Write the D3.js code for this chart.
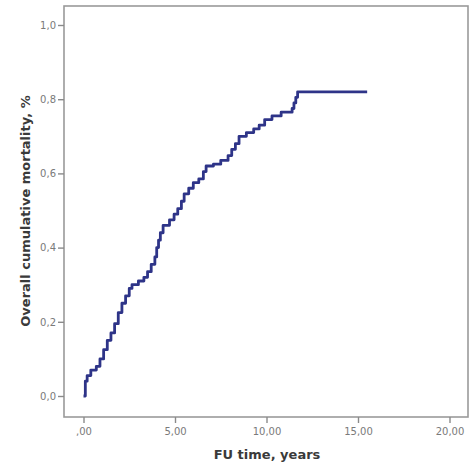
<!DOCTYPE html>
<html>
<head>
<meta charset="utf-8">
<script src="https://cdn.jsdelivr.net/npm/d3@7"></script>
<style>
  html, body { margin: 0; padding: 0; background: #fff; }
  svg { display: block; }
</style>
</head>
<body>
<svg id="chart" width="473" height="469"></svg>
<script>
// Data (Kaplan–Meier style cumulative mortality)
const times = [0, 0.1, 0.2, 0.4, 0.7, 0.9, 1.1, 1.3, 1.5, 1.7, 1.9, 2.1, 2.3, 2.5, 2.65, 3.0, 3.3, 3.5, 3.7, 3.9, 4.0, 4.1, 4.2, 4.35, 4.7, 4.95, 5.15, 5.35, 5.5, 5.75, 6.0, 6.3, 6.55, 6.7, 7.1, 7.5, 7.9, 8.1, 8.3, 8.5, 8.9, 9.3, 9.6, 9.9, 10.3, 10.8, 11.4, 11.5, 11.6, 11.7, 15.5];
const mortality = [0, 0.04, 0.055, 0.07, 0.08, 0.1, 0.125, 0.15, 0.17, 0.195, 0.225, 0.25, 0.27, 0.29, 0.30, 0.31, 0.32, 0.335, 0.355, 0.375, 0.40, 0.42, 0.44, 0.46, 0.475, 0.49, 0.505, 0.525, 0.545, 0.56, 0.575, 0.585, 0.605, 0.62, 0.625, 0.635, 0.648, 0.665, 0.68, 0.70, 0.71, 0.72, 0.73, 0.745, 0.755, 0.765, 0.775, 0.79, 0.805, 0.82, 0.82];
const xTicks = [0, 5, 10, 15, 20];
const xTickLabels = [",00", "5,00", "10,00", "15,00", "20,00"];
const yTicks = [0, 0.2, 0.4, 0.6, 0.8, 1.0];
const yTickLabels = ["0,0", "0,2", "0,4", "0,6", "0,8", "1,0"];
const xTitle = "FU time, years";
const yTitle = "Overall cumulative mortality, %";

const svg = d3.select("#chart");
const frame = { left: 64, top: 6, right: 468, bottom: 417 };

const x = d3.scaleLinear().domain([0, 20]).range([83.5, 449.5]);
const y = d3.scaleLinear().domain([0, 1]).range([396, 25]);

// frame
svg.append("rect")
  .attr("x", frame.left).attr("y", frame.top)
  .attr("width", frame.right - frame.left).attr("height", frame.bottom - frame.top)
  .attr("fill", "#fff").attr("stroke", "#9a9a9a").attr("stroke-width", 1.6);

// y axis
const yAxis = svg.append("g")
  .attr("transform", `translate(${frame.left},0)`)
  .call(d3.axisLeft(y).tickValues(yTicks).tickSize(6).tickPadding(2)
    .tickFormat((d, i) => yTickLabels[i]));
yAxis.select(".domain").remove();
yAxis.selectAll(".tick line").attr("stroke", "#8a8a8a").attr("stroke-width", 1.4);
yAxis.selectAll(".tick text").attr("fill", "#7a7a7a")
  .style("font-family", "'DejaVu Sans', sans-serif").style("font-size", "10px");

// x axis
const xAxis = svg.append("g")
  .attr("transform", `translate(0,${frame.bottom})`)
  .call(d3.axisBottom(x).tickValues(xTicks).tickSize(6).tickPadding(5)
    .tickFormat((d, i) => xTickLabels[i]));
xAxis.select(".domain").remove();
xAxis.selectAll(".tick line").attr("stroke", "#8a8a8a").attr("stroke-width", 1.4);
xAxis.selectAll(".tick text").attr("fill", "#7a7a7a")
  .style("font-family", "'DejaVu Sans', sans-serif").style("font-size", "10px");

// titles
svg.append("text")
  .attr("x", 267).attr("y", 459)
  .attr("text-anchor", "middle")
  .attr("fill", "#3a3a3a")
  .style("font-family", "'DejaVu Sans', sans-serif").style("font-weight", "bold").style("font-size", "13px")
  .text(xTitle);

svg.append("text")
  .attr("transform", `translate(30,211) rotate(-90)`)
  .attr("text-anchor", "middle")
  .attr("fill", "#3a3a3a")
  .style("font-family", "'DejaVu Sans', sans-serif").style("font-weight", "bold").style("font-size", "13px")
  .text(yTitle);

// curve
const data = times.map((t, i) => ({ t, v: mortality[i] }));
const line = d3.line().x(d => x(d.t)).y(d => y(d.v)).curve(d3.curveStepAfter);
svg.append("path")
  .datum(data)
  .attr("d", line)
  .attr("fill", "none")
  .attr("stroke", "#2e3488")
  .attr("stroke-width", 2.8)
  .attr("stroke-linejoin", "round");
</script>
</body>
</html>
